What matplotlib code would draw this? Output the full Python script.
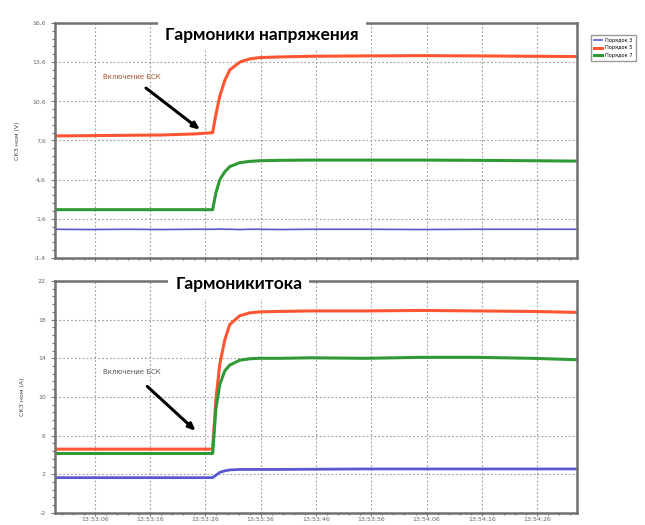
import matplotlib.pyplot as plt
from matplotlib.ticker import AutoMinorLocator

# time in seconds after 13:53:00
t = [-1.2, 5, 12, 18, 24, 27.3, 27.9, 28.6, 29.5, 30.4, 32.2, 34.0, 35.8,
     39.5, 45, 55, 65, 75, 85, 93.2]

# voltage harmonics
u_blue = [0.8, 0.78, 0.8, 0.78, 0.8, 0.8, 0.8, 0.82, 0.8, 0.8, 0.78, 0.8,
          0.8, 0.78, 0.8, 0.8, 0.78, 0.8, 0.8, 0.8]
u_red = [7.95, 7.97, 8.0, 8.02, 8.1, 8.2, 9.6, 11.0, 12.2, 13.0, 13.6, 13.85,
         13.95, 14.0, 14.05, 14.08, 14.1, 14.08, 14.05, 14.03]
u_green = [2.3, 2.3, 2.3, 2.3, 2.3, 2.3, 3.6, 4.6, 5.2, 5.6, 5.9, 6.0, 6.05,
           6.08, 6.1, 6.1, 6.1, 6.08, 6.05, 6.02]

# current harmonics
i_blue = [1.65, 1.65, 1.65, 1.65, 1.65, 1.65, 1.9, 2.2, 2.35, 2.45, 2.5, 2.5,
          2.5, 2.5, 2.52, 2.55, 2.55, 2.55, 2.55, 2.55]
i_red = [4.6, 4.6, 4.6, 4.6, 4.6, 4.6, 9.8, 13.4, 15.9, 17.5, 18.4, 18.7,
         18.8, 18.85, 18.9, 18.9, 18.95, 18.9, 18.85, 18.75]
i_green = [4.15, 4.15, 4.15, 4.15, 4.15, 4.15, 8.8, 11.3, 12.7, 13.3, 13.8,
           13.95, 14.0, 14.0, 14.05, 14.0, 14.1, 14.1, 14.0, 13.85]

x_ticks = [6, 16, 26, 36, 46, 56, 66, 76, 86]
x_labels = ["13:53:06", "13:53:16", "13:53:26", "13:53:36", "13:53:46",
            "13:53:56", "13:54:06", "13:54:16", "13:54:26"]
u_ticks = [-1.4, 1.6, 4.6, 7.6, 10.6, 13.6, 16.6]
i_ticks = [-2, 2, 6, 10, 14, 18, 22]
names = ["Порядок 3", "Порядок 5", "Порядок 7"]

c_blue, c_red, c_green = "#5858d0", "#ff5533", "#2f9a35"

fig = plt.figure(figsize=(6.45, 5.25), dpi=100)
ax1 = fig.add_axes([0.0853, 0.5086, 0.8093, 0.4476])
ax2 = fig.add_axes([0.0853, 0.0230, 0.8093, 0.4418])


def style(ax, yticks, ylabel):
    ax.set_xlim(-1.2, 93.2)
    ax.set_ylim(yticks[0], yticks[-1])
    ax.set_xticks(x_ticks)
    ax.set_yticks(yticks)
    ax.set_yticklabels([f"{v:g}".replace(".", ",") for v in yticks])
    ax.xaxis.set_minor_locator(AutoMinorLocator(5))
    ax.yaxis.set_minor_locator(AutoMinorLocator(5))
    ax.grid(True, which="major", color="#9a9a9a", linestyle=(0, (1.5, 2)),
            linewidth=0.8)
    ax.tick_params(which="both", direction="out", colors="#777777",
                   labelcolor="#666666", labelsize=4.5, width=0.8)
    ax.tick_params(which="major", length=3)
    ax.tick_params(which="minor", length=2)
    ax.tick_params(axis="x", which="major", length=2, pad=0.8)
    ax.tick_params(axis="x", which="minor", length=1.5)
    for sp in ax.spines.values():
        sp.set_color("#707070")
        sp.set_linewidth(1.8)
    ax.set_ylabel(ylabel, fontsize=4.5, color="#444444", labelpad=9)


ax1.plot(t, u_blue, color=c_blue, lw=1.2, label=names[0])
ax1.plot(t, u_red, color=c_red, lw=2.2, label=names[1])
ax1.plot(t, u_green, color=c_green, lw=2.2, label=names[2])
style(ax1, u_ticks, "СКЗ ном (V)")
ax1.set_xticklabels([])

ax2.plot(t, i_blue, color=c_blue, lw=2.0)
ax2.plot(t, i_red, color=c_red, lw=2.2)
ax2.plot(t, i_green, color=c_green, lw=2.2)
style(ax2, i_ticks, "СКЗ ном (А)")
ax2.set_xticklabels(x_labels)

ax1.annotate("Включение БСК", xy=(25.4, 8.3), xytext=(12.7, 12.45),
             fontsize=5, color="#a0522d", ha="center", va="center",
             arrowprops=dict(arrowstyle="-|>,head_length=0.8,head_width=0.35",
                             color="black", lw=2.2, shrinkA=6))
ax2.annotate("Включение БСК", xy=(24.6, 6.3), xytext=(12.7, 12.56),
             fontsize=5, color="#555555", ha="center", va="center",
             arrowprops=dict(arrowstyle="-|>,head_length=0.8,head_width=0.35",
                             color="black", lw=2.2, shrinkA=9))

title_box = dict(facecolor="white", edgecolor="none", pad=5)
fig.text(0.4065, 0.933, "Гармоники напряжения", fontsize=12.5,
         fontweight="bold", family="Lato", ha="center", va="center",
         bbox=title_box)
fig.text(0.3705, 0.459, "Гармоникитока", fontsize=12.5,
         fontweight="bold", family="Lato", ha="center", va="center",
         bbox=title_box)

fig.legend(loc="upper left", bbox_to_anchor=(0.912, 0.939), fontsize=3.6,
           frameon=True, edgecolor="#808080", fancybox=False,
           handlelength=1.6, handletextpad=0.5, borderpad=0.7,
           labelspacing=0.45)

fig.savefig("out.png", dpi=100)
